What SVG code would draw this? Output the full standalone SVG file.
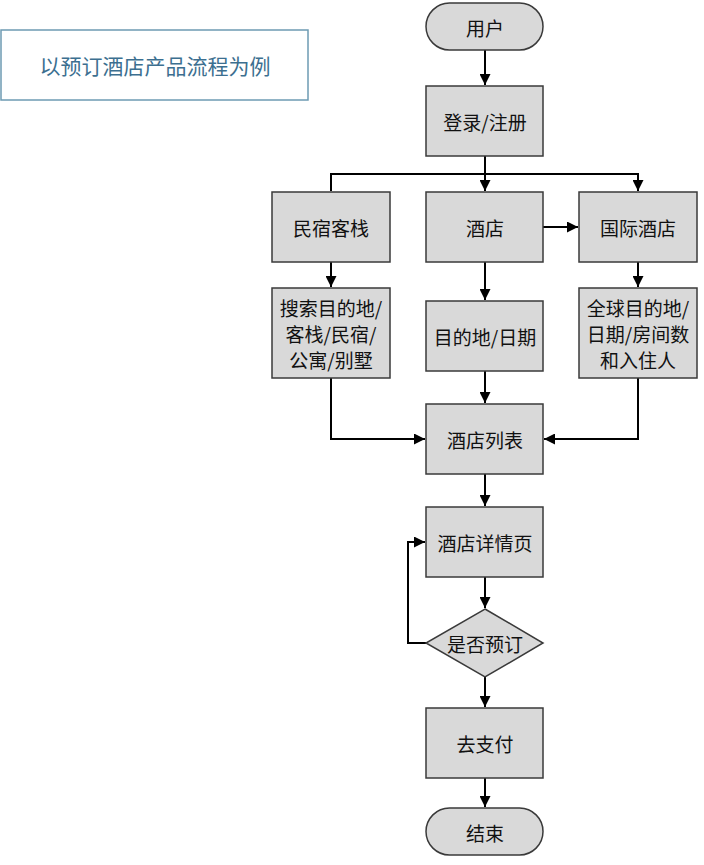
<svg xmlns="http://www.w3.org/2000/svg" width="704" height="865" viewBox="0 0 704 865">
<style>
.n{fill:#d9d9d9;stroke:#3a3a3a;stroke-width:1.5}
.t{font-family:"Noto Sans CJK SC",sans-serif;font-size:19px;fill:#111;text-anchor:middle;dominant-baseline:central}
.c{fill:none;stroke:#000;stroke-width:2;marker-end:url(#a)}
</style>
<defs><marker id="a" viewBox="0 0 10 10" refX="10" refY="5" markerWidth="11" markerHeight="11" orient="auto" markerUnits="userSpaceOnUse"><path d="M0,0L10,5L0,10z" fill="#000"/></marker></defs>
<rect width="704" height="865" fill="#fff"/>
<g id="title"><rect x="1" y="30" width="307" height="70" fill="#fff" stroke="#6d9bb3" stroke-width="1.5"/><text x="155" y="65" class="t" style="fill:#3c6f90;font-size:21px">以预订酒店产品流程为例</text></g>
<g id="connectors">
<path class="c" d="M485,50V85"/>
<path class="c" d="M485,156V191"/>
<path class="c" d="M331,191V174H638V191"/>
<path class="c" d="M543,227H578"/>
<path class="c" d="M331,262V287"/>
<path class="c" d="M485,262V300"/>
<path class="c" d="M638,262V287"/>
<path class="c" d="M485,371V403"/>
<path class="c" d="M331,378V439H425"/>
<path class="c" d="M638,378V439H544"/>
<path class="c" d="M485,474V506"/>
<path class="c" d="M485,577V608"/>
<path class="c" d="M426,643H408V542H425"/>
<path class="c" d="M485,677V707"/>
<path class="c" d="M485,778V807"/>
</g>
<g id="user"><rect class="n" x="426" y="3" width="117" height="47" rx="23.5"/><text class="t" x="485" y="27">用户</text></g>
<g id="login"><rect class="n" x="426" y="86" width="117" height="70"/><text class="t" x="485" y="121">登录/注册</text></g>
<g id="minsu"><rect class="n" x="272" y="192" width="118" height="70"/><text class="t" x="331" y="227">民宿客栈</text></g>
<g id="hotel"><rect class="n" x="426" y="192" width="117" height="70"/><text class="t" x="485" y="227">酒店</text></g>
<g id="intl"><rect class="n" x="579" y="192" width="118" height="70"/><text class="t" x="638" y="227">国际酒店</text></g>
<g id="search1"><rect class="n" x="272" y="288" width="118" height="90"/><text class="t" x="331" y="307">搜索目的地/</text><text class="t" x="331" y="333">客栈/民宿/</text><text class="t" x="331" y="359">公寓/别墅</text></g>
<g id="dest"><rect class="n" x="426" y="301" width="117" height="70"/><text class="t" x="485" y="336">目的地/日期</text></g>
<g id="search3"><rect class="n" x="579" y="288" width="118" height="90"/><text class="t" x="638" y="307">全球目的地/</text><text class="t" x="638" y="333">日期/房间数</text><text class="t" x="638" y="359">和入住人</text></g>
<g id="list"><rect class="n" x="426" y="404" width="117" height="70"/><text class="t" x="485" y="439">酒店列表</text></g>
<g id="detail"><rect class="n" x="426" y="507" width="117" height="70"/><text class="t" x="485" y="542">酒店详情页</text></g>
<g id="decide"><path class="n" d="M485,609L543,643L485,677L426,643z"/><text class="t" x="485" y="643">是否预订</text></g>
<g id="pay"><rect class="n" x="426" y="708" width="117" height="70"/><text class="t" x="485" y="743">去支付</text></g>
<g id="end"><rect class="n" x="426" y="808" width="117" height="47" rx="23.5"/><text class="t" x="485" y="832">结束</text></g>
</svg>
